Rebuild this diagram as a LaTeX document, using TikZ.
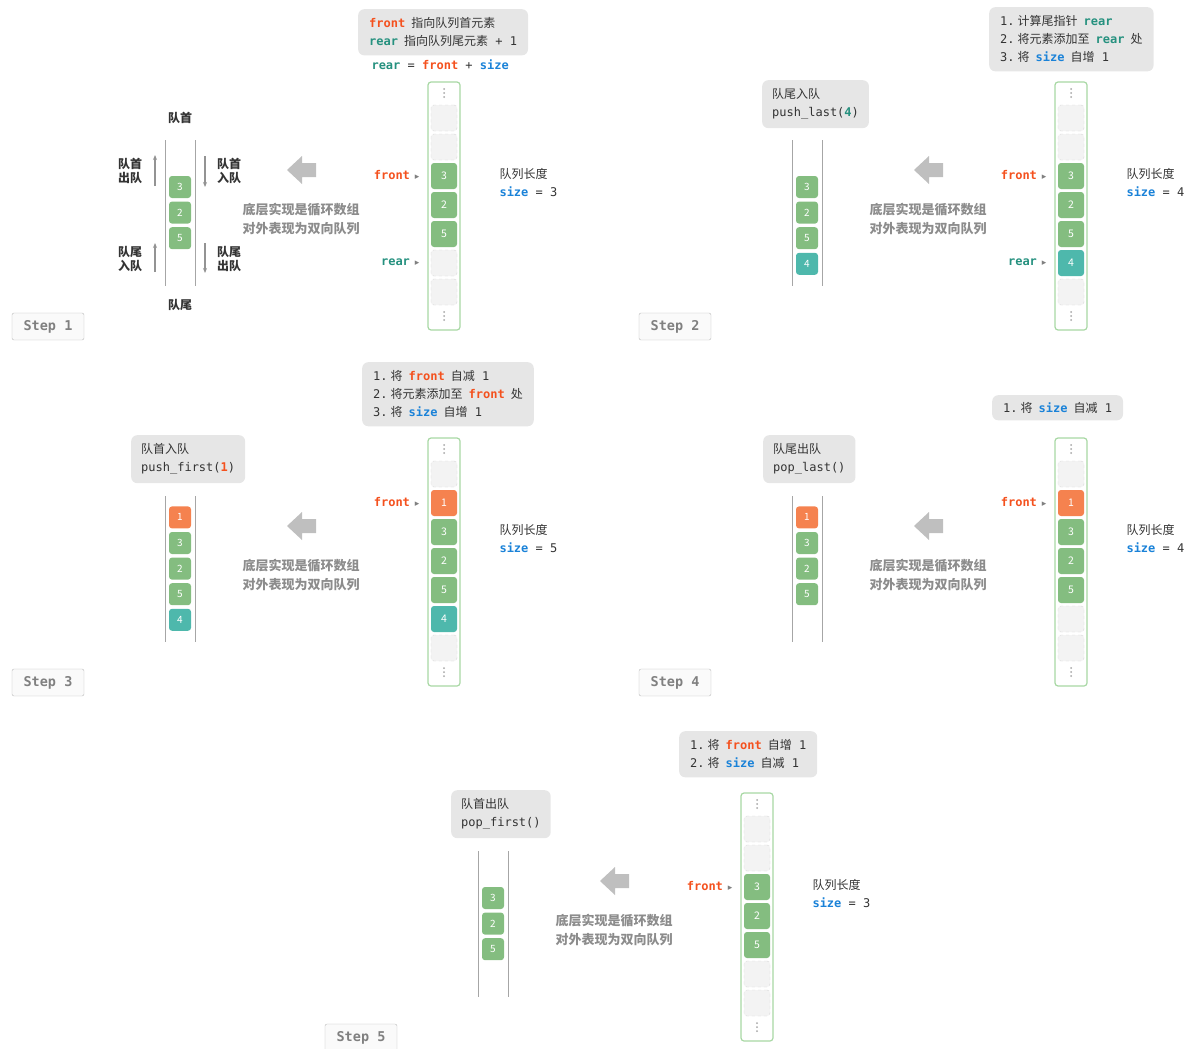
\documentclass[tikz,border=0pt]{standalone}
\usepackage{fontspec}
\setmainfont{Noto Sans CJK SC}
\setmonofont{DejaVu Sans Mono}
\newfontfamily\symfont{DejaVu Sans}
\usetikzlibrary{arrows.meta}

\definecolor{cfront}{HTML}{F4511E}
\definecolor{crear}{HTML}{26917F}
\definecolor{csize}{HTML}{1A82D8}
\definecolor{cgreen}{HTML}{84BD80}
\definecolor{corange}{HTML}{F5824F}
\definecolor{cteal}{HTML}{4EB8AC}
\definecolor{cempty}{HTML}{F3F3F3}
\definecolor{carr}{HTML}{A8D8A4}
\definecolor{cnote}{HTML}{E6E6E6}
\definecolor{cmid}{HTML}{8C8C8C}
\definecolor{cline}{HTML}{A6A6A6}
\definecolor{ctxt}{HTML}{333333}

\newcommand{\kf}{{\ttfamily\bfseries\color{cfront}front}}
\newcommand{\kr}{{\ttfamily\bfseries\color{crear}rear}}
\newcommand{\ks}{{\ttfamily\bfseries\color{csize}size}}
\newcommand{\tc}[1]{{\ttfamily #1}}
\newcommand{\sk}{\hspace{6pt}}
\newcommand{\nr}[1]{\tc{#1.}\hspace{3pt}}
\newcommand{\ptr}{\hspace{5pt}{\symfont\fontsize{9}{9}\selectfont\color{gray}▸}}

\tikzset{
  acell/.style={minimum width=26pt,minimum height=26pt,inner sep=0pt,rounded corners=3pt,
    text=white,font=\fontsize{10.5}{10.5}\selectfont},
  dcell/.style={minimum width=22pt,minimum height=22pt,inner sep=0pt,rounded corners=3pt,
    text=white,font=\fontsize{10}{10}\selectfont},
  celle/.style={fill=cempty,draw=gray!30,dashed},
  cellg/.style={fill=cgreen},
  cello/.style={fill=corange},
  cellt/.style={fill=cteal},
  note/.style={fill=cnote,rounded corners=6pt,inner xsep=11pt,inner ysep=8.5pt,align=left,anchor=north west},
  midtxt/.style={align=center,text=cmid,font=\fontsize{13}{19}\selectfont\bfseries},
  lbl/.style={align=center,font=\fontsize{12}{14}\selectfont\bfseries},
  stepbox/.style={draw=gray!55,fill=gray!4,minimum width=72pt,minimum height=27pt,rounded corners=2pt,
    text=gray,font=\fontsize{13.5}{13.5}\selectfont\ttfamily\bfseries},
  updown/.style={gray!85,line width=1.2pt,-{Stealth[length=5pt,width=4pt]}}
}

% array column: prefix, cells
\newcommand{\arraycol}[2]{%
  \draw[carr,line width=1.2pt,rounded corners=3pt,fill=white] (428,82) rectangle (460,330);
  \foreach \y in {93,316} \foreach \d in {-4,0,4} \fill[gray!70] (444,\y+\d) circle (1pt);
  \foreach \t/\v [count=\i] in {#2} \node[acell,cell\t] (#1a\i) at (444,89+29*\i) {\v};
}
% deque cells: prefix, start y, cells
\newcommand{\deque}[3]{%
  \foreach \t/\v [count=\i] in {#3} \node[dcell,cell\t] (#1d\i) at (180,#2+25.6*\i) {\v};
}
% shared parts: prefix, step, size
\newcommand{\panelbase}[3]{%
  \draw[cline,line width=1pt] (165,140) -- (165,286) (195,140) -- (195,286);
  \fill[gray!50] (287,170) -- (302,156) -- (302,163) -- (316,163) -- (316,177) -- (302,177) -- (302,184) -- cycle;
  \node[midtxt] (#1m) at (301,219.5) {底层实现是循环数组\\对外表现为双向队列};
  \node[anchor=west] (#1l) at (496,174) {队列长度};
  \node[anchor=west] (#1s) at (496,192) {\ks\tc{ = #3}};
  \node[stepbox] (#1st) at (48,326.5) {Step #2};
}

\begin{document}
\begin{tikzpicture}[x=1pt,y=-1pt,text=ctxt,font=\fontsize{12}{18}\selectfont]
  \useasboundingbox (0,0) rectangle (1186,1049);

  % step 1
  \begin{scope}
    \panelbase{a}{1}{3}
    \node[note] (anote) at (358,9) {\kf\sk 指向队列首元素\\\kr\sk 指向队列尾元素\tc{ + 1}};
    \node[anchor=west] (aeq) at (368,65) {\tc{\kr{} = \kf{} + \ks}};
    \arraycol{a}{e/{},e/{},g/3,g/2,g/5,e/{},e/{}}
    \node[anchor=east] (afr) at (423,175) {\kf\ptr};
    \node[anchor=east] (are) at (423,262) {\kr\ptr};
    \deque{a}{161.4}{g/3,g/2,g/5}
    \node[lbl] (ahead) at (180,118) {队首};
    \node[lbl] (atail) at (180,305) {队尾};
    \node[lbl] (apopf) at (130,171) {队首\\出队};
    \node[lbl] (apushf) at (229,171) {队首\\入队};
    \node[lbl] (apushl) at (130,259) {队尾\\入队};
    \node[lbl] (apopl) at (229,259) {队尾\\出队};
    \draw[updown] (155,186) -- (155,155);
    \draw[updown] (205,156) -- (205,187);
    \draw[updown] (155,272) -- (155,243);
    \draw[updown] (205,243) -- (205,273);
  \end{scope}

  % step 2
  \begin{scope}[shift={(627,0)}]
    \panelbase{b}{2}{4}
    \node[note] (bnote) at (362,7) {\nr{1}计算尾指针\sk\kr\\\nr{2}将元素添加至\sk\kr\sk 处\\\nr{3}将\sk\ks\sk 自增\tc{ 1}};
    \node[note,inner xsep=10pt] (bop) at (135,80) {队尾入队\\\tc{push\_last(}{\ttfamily\bfseries\color{crear}4}\tc{)}};
    \arraycol{b}{e/{},e/{},g/3,g/2,g/5,t/4,e/{}}
    \node[anchor=east] (bfr) at (423,175) {\kf\ptr};
    \node[anchor=east] (bre) at (423,262) {\kr\ptr};
    \deque{b}{161.4}{g/3,g/2,g/5,t/4}
  \end{scope}

  % step 3
  \begin{scope}[shift={(0,356)}]
    \panelbase{c}{3}{5}
    \node[note] (cnote) at (362,6) {\nr{1}将\sk\kf\sk 自减\tc{ 1}\\\nr{2}将元素添加至\sk\kf\sk 处\\\nr{3}将\sk\ks\sk 自增\tc{ 1}};
    \node[note,inner xsep=10pt] (cop) at (131,79) {队首入队\\\tc{push\_first(}{\ttfamily\bfseries\color{cfront}1}\tc{)}};
    \arraycol{c}{e/{},o/1,g/3,g/2,g/5,t/4,e/{}}
    \node[anchor=east] (cfr) at (423,146) {\kf\ptr};
    \deque{c}{135.8}{o/1,g/3,g/2,g/5,t/4}
  \end{scope}

  % step 4
  \begin{scope}[shift={(627,356)}]
    \panelbase{d}{4}{4}
    \node[note,inner ysep=7pt] (dnote) at (365,39) {\nr{1}将\sk\ks\sk 自减\tc{ 1}};
    \node[note,inner xsep=10pt] (dop) at (136,79) {队尾出队\\\tc{pop\_last()}};
    \arraycol{d}{e/{},o/1,g/3,g/2,g/5,e/{},e/{}}
    \node[anchor=east] (dfr) at (423,146) {\kf\ptr};
    \deque{d}{135.8}{o/1,g/3,g/2,g/5}
  \end{scope}

  % step 5
  \begin{scope}[shift={(313,711)}]
    \panelbase{e}{5}{3}
    \node[note] (enote) at (366,20) {\nr{1}将\sk\kf\sk 自增\tc{ 1}\\\nr{2}将\sk\ks\sk 自减\tc{ 1}};
    \node[note,inner xsep=10pt] (eop) at (138,79) {队首出队\\\tc{pop\_first()}};
    \arraycol{e}{e/{},e/{},g/3,g/2,g/5,e/{},e/{}}
    \node[anchor=east] (efr) at (423,175) {\kf\ptr};
    \deque{e}{161.4}{g/3,g/2,g/5}
  \end{scope}
\end{tikzpicture}
\end{document}
